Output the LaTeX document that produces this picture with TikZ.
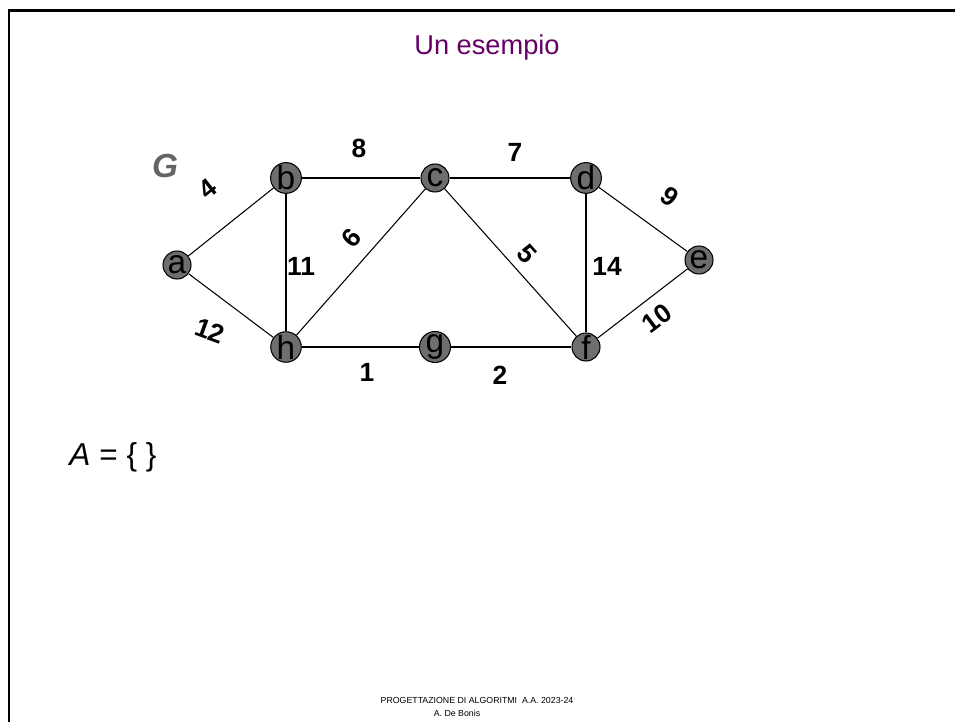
\documentclass[tikz,border=0pt]{standalone}
\usepackage{fontspec}
\setmainfont{Liberation Sans}
\setsansfont{Liberation Sans}
\usetikzlibrary{positioning}
\definecolor{titlePurple}{RGB}{102,0,102}
\definecolor{vertexGray}{RGB}{110,110,110}
\definecolor{graphGray}{RGB}{100,100,100}
\tikzset{
    font=\sffamily,
    x=0.02cm, y=-0.02cm,
    % Shapes
    vertex/.style={circle, draw=black, fill=vertexGray, line width=0.6pt,
                   minimum size=0.56cm, inner sep=0pt, font=\sffamily\fontsize{19pt}{19pt}\selectfont},
    edge/.style={draw=black, line width=0.6pt},
    % Labels
    weight/.style={font=\sffamily\bfseries\fontsize{15pt}{15pt}\selectfont, inner sep=0pt},
    footnote/.style={anchor=base, font=\sffamily\fontsize{5pt}{5pt}\selectfont},
    frame/.style={line width=1.7pt, black}
}
\begin{document}
\begin{tikzpicture}

\useasboundingbox (0,0) rectangle (955,722);
\fill[white] (0,0) rectangle (955,722);

% Slide frame
\draw[frame] (9,722) -- (9,11) -- (955,11);

% Title
\node[anchor=base, text=titlePurple, font=\sffamily\fontsize{15.5pt}{15.5pt}\selectfont] (title) at (487,55) {Un esempio};

% Vertices
\node[vertex] (a) at (177,265) {a};
\node[vertex] (b) at (286,178) {b};
\node[vertex] (c) at (435,178) {c};
\node[vertex] (d) at (586,178) {d};
\node[vertex] (e) at (699,260) {e};
\node[vertex] (f) at (586,347) {f};
\node[vertex] (g) at (435,347) {g};
\node[vertex] (h) at (286,347) {h};

\node[text=graphGray, font=\sffamily\bfseries\itshape\fontsize{19pt}{19pt}\selectfont] (gname) at (165,166) {G};

% Edges
\begin{scope}[on background layer/.try]
\draw[edge] (a) -- (b);
\draw[edge] (a) -- (h);
\draw[edge] (b) -- (c);
\draw[edge] (b) -- (h);
\draw[edge] (h) -- (c);
\draw[edge] (c) -- (d);
\draw[edge] (c) -- (f);
\draw[edge] (d) -- (e);
\draw[edge] (d) -- (f);
\draw[edge] (e) -- (f);
\draw[edge] (h) -- (g);
\draw[edge] (g) -- (f);
\end{scope}

% Weights
\node[weight, rotate=38] (wab) at (208,189) {4};
\node[weight] (wbc) at (359,148) {8};
\node[weight] (wcd) at (515,152) {7};
\node[weight, rotate=-37] (wde) at (670,197) {9};
\node[weight, rotate=49] (whc) at (351,238) {6};
\node[weight] (wbh) at (301,266) {11};
\node[weight, rotate=-48] (wcf) at (527,254) {5};
\node[weight] (wdf) at (607,266) {14};
\node[weight, rotate=37] (wef) at (657,318) {10};
\node[weight, rotate=-20] (wah) at (210,331) {12};
\node[weight] (whg) at (367,372) {1};
\node[weight] (wgf) at (500,375) {2};

% Set A
\node[anchor=base, font=\sffamily\fontsize{18pt}{18pt}\selectfont] (setA) at (113,465) {\textit{A} = \{ \}};

% Footer
\node[footnote] (footer) at (477,703) {PROGETTAZIONE DI ALGORITMI\ \ A.A. 2023-24};
\node[footnote] (author) at (457,716) {A. De Bonis};

\end{tikzpicture}
\end{document}
